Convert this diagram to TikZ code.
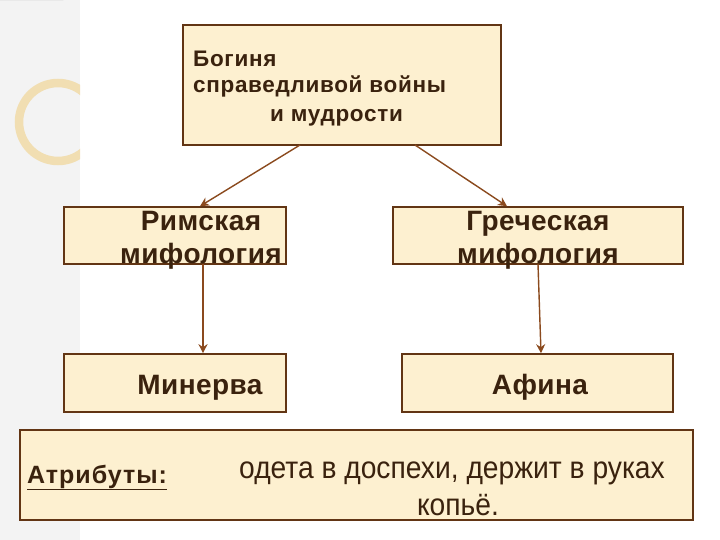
\documentclass[tikz,border=0pt]{standalone}
\usepackage{fontspec}
\usepackage{graphicx}
\setmainfont{Liberation Sans}
\newfontfamily\topfont[LetterSpace=3]{Liberation Sans}
\newfontfamily\midfont[LetterSpace=1.5]{Liberation Sans}
\newfontfamily\attrfont[LetterSpace=4]{Liberation Sans}
\usetikzlibrary{arrows.meta}
\definecolor{boxfill}{HTML}{FDF0D0}
\definecolor{boxline}{HTML}{623514}
\definecolor{arrowc}{HTML}{8B4A1E}
\definecolor{txt}{HTML}{3A220E}
\definecolor{strip}{HTML}{F3F3F3}
\definecolor{ringc}{HTML}{F1DEB2}
\definecolor{qfill}{HTML}{FBF7EC}
\tikzset{
  box/.style={draw=boxline, fill=boxfill, line width=1.6pt, inner sep=0pt, text=txt},
  toptxt/.style={text=txt, inner sep=0pt, font=\topfont\bfseries\fontsize{22.5}{26}\selectfont, anchor=base west},
  midtxt/.style={text=txt, inner sep=0pt, font=\midfont\bfseries\fontsize{28}{31}\selectfont, anchor=base},
  bodytxt/.style={text=txt, inner sep=0pt, font=\fontsize{31}{36}\selectfont, anchor=base},
  conn/.style={draw=arrowc, line width=1.4pt, -{Stealth[length=9pt,width=9pt]}},
}
\begin{document}
\begin{tikzpicture}[x=1pt,y=-1pt]
\useasboundingbox (0,0) rectangle (720,540);
\fill[white] (0,0) rectangle (720,540);
% left strip
\fill[strip] (0,0) rectangle (80,540);
\fill[qfill, draw=black!15, line width=0.6pt] (0,0) -- (63,0) arc[start angle=0, end angle=-90, radius=63] -- cycle;
\begin{scope}
\clip (0,0) rectangle (80,540);
\draw[ringc, line width=8.5pt] (58,122) circle[radius=39];
\end{scope}
% top box
\node[box, minimum width=318pt, minimum height=120pt] (top) at (342,85) {};
\node[toptxt] (l1) at (193,67) {Богиня};
\node[toptxt] (l2) at (193,93) {справедливой войны};
\node[toptxt] (l3) at (270,122) {и мудрости};
% mythology boxes
\node[box, minimum width=222pt, minimum height=57pt] (rim) at (175,235.5) {};
\node[midtxt] (rim1) at (201,230) {Римская};
\node[midtxt] (rim2) at (201,263) {мифология};
\node[box, minimum width=290pt, minimum height=57pt] (gre) at (538,235.5) {};
\node[midtxt] (gre1) at (538,230) {Греческая};
\node[midtxt] (gre2) at (538,263) {мифология};
% name boxes
\node[box, minimum width=222pt, minimum height=58pt] (min) at (175,383) {};
\node[midtxt] (mint) at (200,394) {Минерва};
\node[box, minimum width=271pt, minimum height=58pt] (afi) at (537.5,383) {};
\node[midtxt] (afit) at (540,394) {Афина};
% attributes box
\node[box, minimum width=673pt, minimum height=90pt] (attr) at (356.5,475) {};
\node[text=txt, inner sep=0pt, font=\attrfont\bfseries\fontsize{25}{28}\selectfont, anchor=base west] (atl) at (27,483) {\underline{Атрибуты:}};
\node[bodytxt] (b1) at (452,478) {\scalebox{0.91}[1]{одета в доспехи, держит в руках}};
\node[bodytxt] (b2) at (458,515) {\scalebox{0.91}[1]{копьё.}};
% connectors
\coordinate (t1) at (300,145);
\coordinate (t2) at (415,145);
\coordinate (r1) at (203,264);
\coordinate (g1) at (538,264);
\draw[conn] (t1) -- (rim.north -| 200,0);
\draw[conn] (t2) -- (gre.north -| 507,0);
\draw[conn] (r1) -- (min.north -| 203,0);
\draw[conn] (g1) -- (afi.north -| 541,0);
\end{tikzpicture}
\end{document}
